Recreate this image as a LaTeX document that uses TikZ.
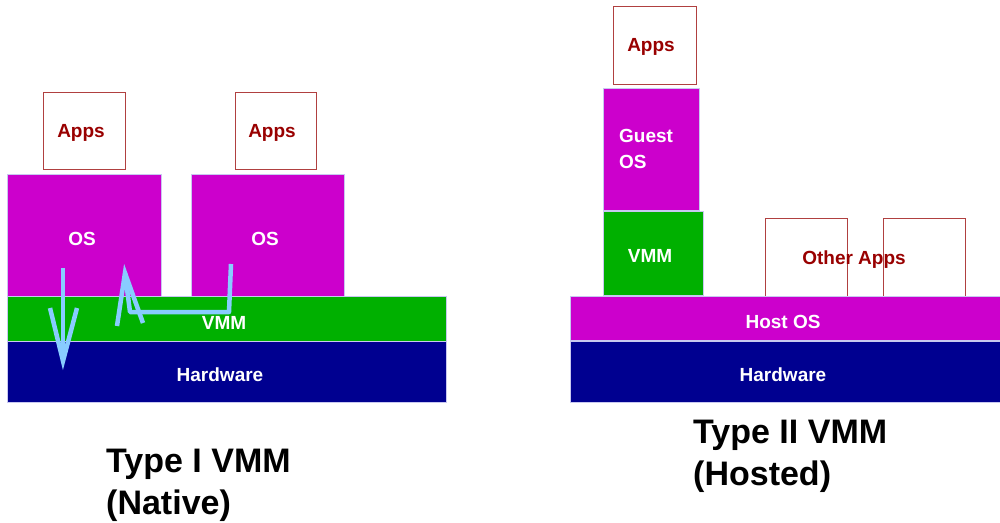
\documentclass[tikz,border=0pt]{standalone}
\usepackage{fontspec}
\setmainfont{Liberation Sans}
\definecolor{mag}{HTML}{CC00CC}
\definecolor{grn}{HTML}{00B000}
\definecolor{navy}{HTML}{000090}
\definecolor{appred}{HTML}{990000}
\definecolor{appline}{HTML}{B04040}
\definecolor{arr}{HTML}{88CCFF}
\definecolor{edge}{HTML}{C8C8F0}
\begin{document}
\begin{tikzpicture}[x=1pt,y=-1pt,
  lbl/.style={font=\fontsize{19}{22}\selectfont\bfseries},
  layer/.style={draw=edge,line width=0.8pt},
  appbox/.style={draw=appline,line width=0.8pt,fill=white},
  flow/.style={draw=arr,line width=4.5pt,line join=round},
  tip/.style={draw=arr,line width=4.5pt,line join=miter,miter limit=10},
  title/.style={font=\fontsize{34}{42}\selectfont\bfseries,align=left,anchor=north west,inner sep=0pt}]
\useasboundingbox (0,0) rectangle (1000,522);
% ---- left: Type I
\path[appbox] (43,92) rectangle (125,169);
\node[lbl,text=appred] (appsA) at (81,133) {Apps};
\path[appbox] (235,92) rectangle (316,169);
\node[lbl,text=appred] (appsB) at (272,133) {Apps};
\path[layer,fill=mag] (7,174) rectangle (161,296);
\node[lbl,text=white] (osA) at (82,239) {OS};
\path[layer,fill=mag] (191,174) rectangle (344,296);
\node[lbl,text=white] (osB) at (265,239) {OS};
\path[layer,fill=grn] (7,296) rectangle (446,341);
\node[lbl,text=white] (vmmA) at (224,323) {VMM};
\path[layer,fill=navy] (7,341) rectangle (446,402);
\node[lbl,text=white] (hwA) at (220,375) {Hardware};
% arrows
\draw[flow] (63,268) -- (63,360);
\draw[tip] (50,308) -- (63,361) -- (77,308);
\draw[flow] (231,264) -- (229,312) -- (130,312) -- (125,273);
\draw[tip] (117,326) -- (125,273) -- (143,323);
\node[title] (t1) at (106,449) {Type I VMM\\(Native)};
% ---- right: Type II
\path[appbox] (613,6) rectangle (696,84);
\node[lbl,text=appred] (appsC) at (651,47) {Apps};
\path[layer,fill=mag] (603,88) rectangle (699,210);
\node[lbl,text=white,align=left,anchor=north west,inner sep=0pt,font=\fontsize{19}{26}\selectfont\bfseries] (guest) at (619,129) {Guest\\OS};
\path[layer,fill=grn] (603,211) rectangle (703,295);
\node[lbl,text=white] (vmmB) at (650,256) {VMM};
\path[appbox] (765,218) rectangle (847,296);
\path[appbox] (883,218) rectangle (965,296);
\node[lbl,text=appred] (other) at (854,260) {Other Apps};
\path[layer,fill=mag] (570,296) rectangle (1000,340);
\node[lbl,text=white] (host) at (783,322) {Host OS};
\path[layer,fill=navy] (570,341) rectangle (1000,402);
\node[lbl,text=white] (hwB) at (783,375) {Hardware};
\node[title] (t2) at (693,420) {Type II VMM\\(Hosted)};
\end{tikzpicture}
\end{document}
